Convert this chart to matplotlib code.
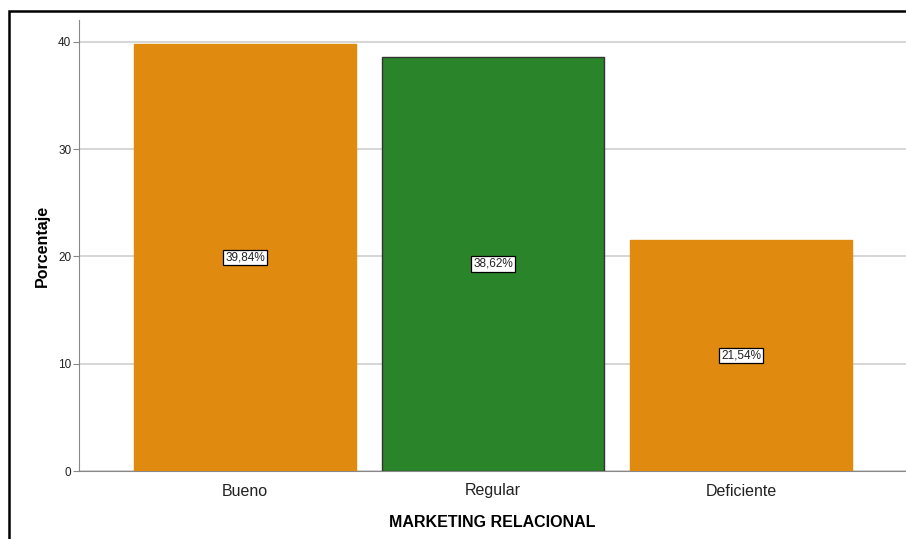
import matplotlib.pyplot as plt
from matplotlib.patches import Rectangle

categorias = ["Bueno", "Regular", "Deficiente"]
porcentajes = [39.84, 38.62, 21.54]
etiquetas = ["39,84%", "38,62%", "21,54%"]
colores = ["#E08A10", "#2A852A", "#E08A10"]
bordes = ["#E08A10", "#333333", "#E08A10"]

plt.rcParams['font.family'] = ['Liberation Sans', 'DejaVu Sans']

fig = plt.figure(figsize=(9.06, 5.39), dpi=100)
ax = fig.add_axes([79/906, 1-471/539, 1-79/906, (471-20)/539])

x = range(len(categorias))
ax.bar(x, porcentajes, width=0.895, color=colores, edgecolor=bordes, linewidth=1, zorder=3)
for i in x:
    ax.text(i, porcentajes[i]/2, etiquetas[i], ha='center', va='center', fontsize=8.5,
            color='#222222', zorder=4,
            bbox=dict(boxstyle='square,pad=0.15', fc='white', ec='black', lw=0.9))

ax.set_xlim(-0.67, 2.665)
ax.set_ylim(0, 42.05)
ax.set_yticks([0, 10, 20, 30, 40])
ax.set_xticks(list(x))
ax.set_xticklabels(categorias, fontsize=11.5, color='#222222')
ax.tick_params(axis='x', length=0, pad=9)
ax.tick_params(axis='y', labelsize=8.5, length=4, color='#888888', pad=1.5, labelcolor='#222222')
ax.yaxis.grid(True, color='#d0d0d0', lw=1.2, zorder=0)
for s in ['top', 'right']:
    ax.spines[s].set_visible(False)
ax.spines['left'].set_color('#888888')
ax.spines['bottom'].set_color('#888888')
ax.set_ylabel('Porcentaje', fontsize=11.5, fontweight='bold', labelpad=6)
ax.set_xlabel('MARKETING RELACIONAL', fontsize=11.5, fontweight='bold', labelpad=12)

fig.patches.append(Rectangle((9/906, -0.1), 1.2, 1-11/539+0.1, transform=fig.transFigure,
                             fill=False, ec='black', lw=1.8, zorder=10))

fig.savefig("out.png", dpi=100)
